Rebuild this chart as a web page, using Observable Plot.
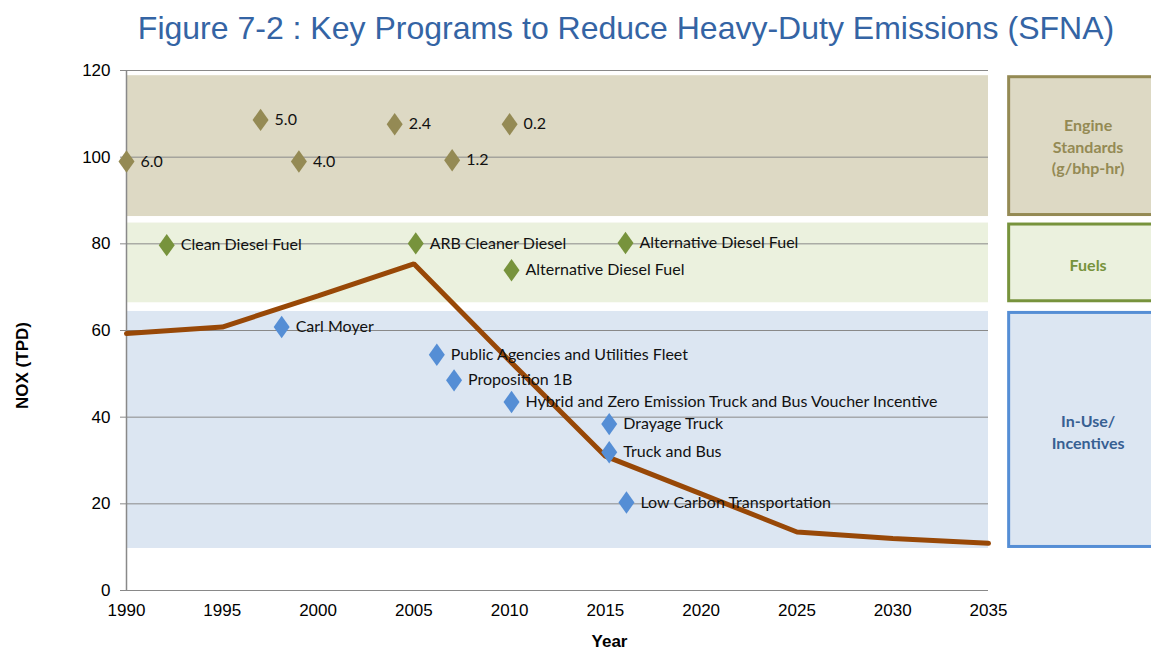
<!DOCTYPE html>
<html>
<head>
<meta charset="utf-8">
<script src="https://cdn.jsdelivr.net/npm/d3@7"></script>
<script src="https://cdn.jsdelivr.net/npm/@observablehq/plot@0.6"></script>
<style>
  body { margin: 0; background: #fff; }
  #title { position: relative; width: 1252px; height: 55px; box-sizing: border-box; padding-top: 12px;
    text-align: center; white-space: nowrap; font-family: "Liberation Sans", Arial, sans-serif;
    font-size: 32px; line-height: 32px; color: #3464A4; }
  #chart { width: 1151px; height: 596px; overflow: hidden; }
</style>
</head>
<body>
<div id="title">Figure 7-2 : Key Programs to Reduce Heavy-Duty Emissions (SFNA)</div>
<div id="chart"></div>
<script>
// ---- data ----
const titleText = "Figure 7-2 : Key Programs to Reduce Heavy-Duty Emissions (SFNA)";
const xTicks = [1990, 1995, 2000, 2005, 2010, 2015, 2020, 2025, 2030, 2035];
const yTicks = [0, 20, 40, 60, 80, 100, 120];

// NOx emissions trend line (TPD)
const lineYears = [1990, 1995, 2000, 2005, 2010, 2015, 2020, 2025, 2030, 2035];
const lineNOx   = [59.3, 60.8, 68.0, 75.4, 53.0, 31.0, 22.3, 13.5, 12.0, 10.9];

// Engine standards (g/bhp-hr)
const engineYears  = [1990, 1997, 1999, 2004, 2007, 2010];
const engineY      = [99.0, 108.6, 99.0, 107.6, 99.3, 107.6];
const engineLabels = ["6.0", "5.0", "4.0", "2.4", "1.2", "0.2"];

// Fuels
const fuelYears  = [1992.1, 2005.1, 2016.05, 2010.1];
const fuelY      = [79.7, 80.1, 80.2, 73.9];
const fuelLabels = ["Clean Diesel Fuel", "ARB Cleaner Diesel", "Alternative Diesel Fuel", "Alternative Diesel Fuel"];

// In-use / incentives
const incYears  = [1998.1, 2006.2, 2007.1, 2010.1, 2015.2, 2015.2, 2016.1];
const incY      = [60.8, 54.4, 48.5, 43.5, 38.4, 31.9, 20.3];
const incLabels = ["Carl Moyer", "Public Agencies and Utilities Fleet", "Proposition 1B",
  "Hybrid and Zero Emission Truck and Bus Voucher Incentive", "Drayage Truck", "Truck and Bus",
  "Low Carbon Transportation"];

// Category bands (y extents in TPD units)
const bandNames  = ["Engine\nStandards\n(g/bhp-hr)", "Fuels", "In-Use/\nIncentives"];
const bandTop    = [118.8, 84.8, 64.4];
const bandBottom = [86.3, 66.4, 9.7];
const bandTextY  = [102.6, 75.3, 36.8];

// ---- styles ----
const bandFill   = ["#DDD9C4", "#EBF1DE", "#DCE6F2"];
const bandStroke = ["#948A54", "#77933C", "#558ED5"];
const bandText   = ["#948A54", "#77933C", "#376092"];
const gridColor = "#898989";

const rows = (xs, ys, ls, group) => xs.map((x, i) => ({x, y: ys[i], label: ls[i], group}));
const engine = rows(engineYears, engineY, engineLabels, 0);
const fuels = rows(fuelYears, fuelY, fuelLabels, 1);
const incs = rows(incYears, incY, incLabels, 2);
const markers = [...engine, ...fuels, ...incs];
const line = lineYears.map((x, i) => ({x, y: lineNOx[i]}));
const bands = bandNames.map((name, i) => ({name, top: bandTop[i], bottom: bandBottom[i], ty: bandTextY[i], i}));

const tallDiamond = {
  draw(ctx, size) {
    const r = Math.sqrt(size / Math.PI);
    ctx.moveTo(0, -r * 1.4);
    ctx.lineTo(r, 0);
    ctx.lineTo(0, r * 1.4);
    ctx.lineTo(-r, 0);
    ctx.closePath();
  }
};

const labelFont = "Lato, 'Open Sans', sans-serif";

const plot = Plot.plot({
  width: 1151,
  height: 596,
  marginLeft: 126,
  marginRight: 163,
  marginTop: 15,
  marginBottom: 61,
  style: {fontFamily: "'Liberation Sans', Arial, sans-serif", fontSize: "17px", color: "#000", background: "#fff", overflow: "visible"},
  x: {domain: [1990, 2035]},
  y: {domain: [0, 120]},
  marks: [
    // bands in plot area
    Plot.rect(bands, {x1: () => 1990, x2: () => 2035, y1: "bottom", y2: "top", fill: d => bandFill[d.i]}),
    // category boxes on the right
    Plot.rect(bands, {x1: () => 2036.0, x2: () => 2044, y1: "bottom", y2: "top",
      fill: d => bandFill[d.i], stroke: d => bandStroke[d.i], strokeWidth: 3, inset: 1.5}),
    Plot.gridY(yTicks, {stroke: gridColor, strokeOpacity: 1}),
    Plot.axisY({ticks: yTicks, tickSize: 6, tickPadding: 10, stroke: gridColor, label: null, fontSize: 17}),
    Plot.axisX({ticks: xTicks, tickSize: 0, tickPadding: 13, tickFormat: d => String(d), label: null, fontSize: 17}),
    Plot.ruleX([1990], {y1: 0, y2: 120, stroke: gridColor, strokeWidth: 1.5}),
    Plot.ruleY([0], {stroke: gridColor}),
    // NOx trend
    Plot.line(line, {x: "x", y: "y", stroke: "#984807", strokeWidth: 5, strokeLinejoin: "miter"}),
    // program markers
    Plot.dot(markers, {x: "x", y: "y", r: 8, symbol: tallDiamond, fill: d => bandStroke[d.group], stroke: "none"}),
    Plot.text(markers, {x: "x", y: "y", text: "label", dx: 14, textAnchor: "start", lineAnchor: "middle",
      fontFamily: labelFont, fontSize: 16, fill: "#111"}),
    // box labels
    Plot.text(bands, {x: () => 2040.2, y: "ty", text: "name", fill: d => bandText[d.i], fontWeight: "bold",
      fontFamily: labelFont, fontSize: 16, lineHeight: 1.35, textAnchor: "middle", lineAnchor: "middle"}),
    // axis titles
    Plot.text(["NOX (TPD)"], {frameAnchor: "left", dx: -104, dy: 35, rotate: -90, textAnchor: "middle",
      lineAnchor: "middle", fontWeight: "bold", fontSize: 17}),
    Plot.text(["Year"], {frameAnchor: "bottom", dx: 52, dy: 51, textAnchor: "middle",
      lineAnchor: "middle", fontWeight: "bold", fontSize: 17})
  ]
});
document.getElementById("chart").appendChild(plot);
</script>
</body>
</html>
